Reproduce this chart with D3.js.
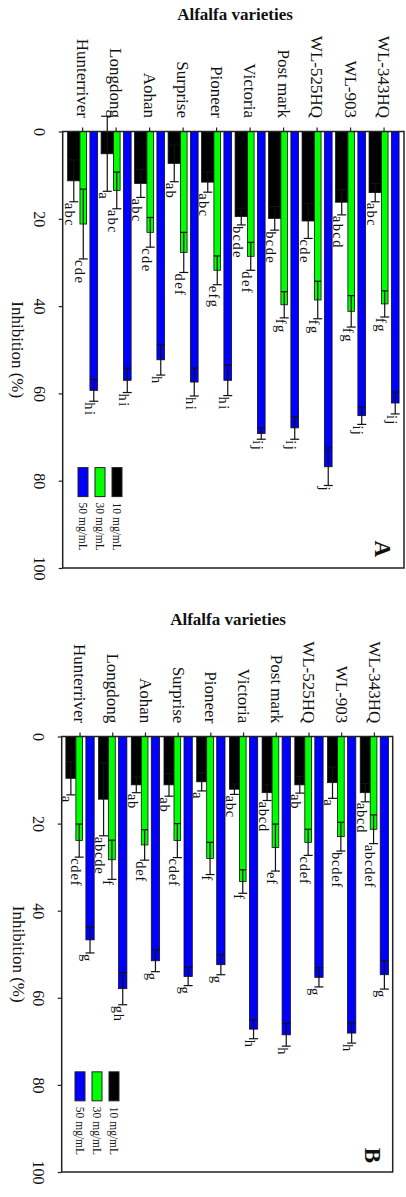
<!DOCTYPE html>
<html>
<head>
<meta charset="utf-8">
<script src="https://cdn.jsdelivr.net/npm/d3@7"></script>
<style>
	body{ margin:0; background:#fff; }
	svg text{ font-family:"Liberation Serif","DejaVu Serif",serif; fill:#111; }
</style>
</head>
<body>
<div id="chart"></div>
<script>
// ---- data ----
let varieties = ['Hunterriver','Longdong','Aohan','Surprise','Pioneer','Victoria','Post mark','WL-525HQ','WL-903','WL-343HQ'];
let value_ticks = [0, 20, 40, 60, 80, 100];
let doses = ['10 mg/mL', '30 mg/mL', '50 mg/mL'];

// panel A
let a_10      = [11.3, 5.1, 11.9, 7.3, 11.6, 19.5, 19.9, 20.5, 16.2, 14.0];
let a_10_err  = [4.8, 8.6, 3.2, 4.2, 2.3, 1.9, 2.7, 4.0, 2.9, 2.1];
let a_10_sig  = ['abc','a','abc','ab','abc','bcde','bcde','cde','abcd','abc'];
let a_30      = [21.2, 13.5, 23.1, 27.7, 31.8, 28.6, 39.7, 38.6, 41.2, 39.5];
let a_30_err  = [8.0, 4.2, 3.4, 4.6, 3.3, 3.2, 3.0, 4.3, 3.6, 3.0];
let a_30_sig  = ['cde','abc','cde','def','efg','def','fg','fg','fg','fg'];
let a_50      = [59.3, 57.0, 52.3, 57.4, 57.0, 69.2, 67.9, 76.8, 65.1, 62.2];
let a_50_err  = [2.5, 2.8, 3.5, 3.2, 3.5, 1.3, 2.6, 4.3, 2.0, 2.5];
let a_50_sig  = ['hi','hi','h','hi','hi','ij','ij','j','ij','ij'];

// panel B
let b_10      = [9.6, 14.4, 11.1, 11.1, 10.4, 12.1, 12.9, 11.1, 10.6, 12.9];
let b_10_err  = [3.8, 8.4, 1.8, 2.6, 2.1, 1.2, 1.8, 1.9, 3.6, 2.1];
let b_10_sig  = ['a','abcde','ab','ab','a','abc','abcd','ab','a','abcd'];
let b_30      = [23.9, 28.3, 24.9, 23.9, 28.0, 33.3, 25.5, 24.3, 23.0, 21.3];
let b_30_err  = [3.8, 4.5, 3.5, 3.9, 3.7, 2.7, 5.4, 3.0, 3.3, 3.3];
let b_30_sig  = ['cdef','f','def','cdef','f','f','ef','cdef','bcdef','abcdef'];
let b_50      = [46.7, 57.9, 51.5, 55.1, 52.4, 67.2, 68.5, 55.3, 68.1, 54.7];
let b_50_err  = [3.0, 3.7, 2.5, 2.1, 2.3, 2.2, 2.6, 2.2, 2.3, 3.3];
let b_50_sig  = ['g','gh','g','g','g','h','h','g','h','g'];

let colors = ['#000000', '#00ff00', '#0000ff'];

let svg = d3.select('#chart')
	.append('svg')
	.attr('width', 406)
	.attr('height', 1197);

// the figure is a column chart turned 90deg clockwise: categories run across,
// values run downwards and every label is rotated
function drawPanel(cfg, series){
	let x = d3.scaleBand()
		.domain(varieties)
		.range(cfg.xRange)
		.paddingInner(cfg.padIn)
		.paddingOuter(cfg.padOut);

	let y = d3.scaleLinear()
		.domain([0, 100])
		.range(cfg.yRange);

	let bw = x.bandwidth();
	let g  = svg.append('g');

	g.append('text')
		.attr('x', cfg.titleX)
		.attr('y', cfg.titleY)
		.attr('dy', '0.35em')
		.attr('text-anchor', 'middle')
		.attr('font-size', 17)
		.attr('font-weight', 'bold')
		.text('Alfalfa varieties');

	series.forEach(function(s, si){
		let sub  = cfg.sub[si],
			w    = (sub[1] - sub[0]) * bw,
			rows = varieties.map(function(v, i){
				return {v: v, val: s.values[i], err: s.errors[i], sig: s.sig[i]};
			});
		let left = function(d){ return x(d.v) + sub[0] * bw; };
		let cx   = function(d){ return left(d) + w / 2; };

		let sg = g.append('g').attr('class', 'series');

		sg.selectAll('rect')
			.data(rows)
			.enter()
			.append('rect')
			.attr('x', left)
			.attr('y', y(0))
			.attr('width', w)
			.attr('height', function(d){ return y(d.val) - y(0); })
			.attr('fill', s.color)
			.attr('stroke', '#111')
			.attr('stroke-width', 0.8);

		let eb = sg.selectAll('.err')
			.data(rows)
			.enter()
			.append('g')
			.attr('class', 'err')
			.attr('stroke', '#111')
			.attr('stroke-width', 1.2);

		eb.append('line')
			.attr('x1', cx).attr('x2', cx)
			.attr('y1', function(d){ return y(d.val - d.err); })
			.attr('y2', function(d){ return y(d.val + d.err); });
		eb.append('line')
			.attr('x1', left).attr('x2', function(d){ return left(d) + w; })
			.attr('y1', function(d){ return y(d.val - d.err); })
			.attr('y2', function(d){ return y(d.val - d.err); });
		eb.append('line')
			.attr('x1', function(d){ return cx(d) - cfg.cap / 2; })
			.attr('x2', function(d){ return cx(d) + cfg.cap / 2; })
			.attr('y1', function(d){ return y(d.val + d.err); })
			.attr('y2', function(d){ return y(d.val + d.err); });

		sg.selectAll('.sig')
			.data(rows)
			.enter()
			.append('text')
			.attr('class', 'sig')
			.attr('transform', function(d){
				return 'translate(' + cx(d) + ',' + (y(d.val + d.err) + 1) + ') rotate(90)';
			})
			.attr('dy', 8.5)
			.attr('font-size', 14.5)
			.attr('letter-spacing', cfg.sigSpacing)
			.text(function(d){ return d.sig; });
	});

	// frame
	g.append('rect')
		.attr('x', cfg.xRange[0])
		.attr('y', y(0))
		.attr('width', cfg.xRange[1] - cfg.xRange[0])
		.attr('height', y(100) - y(0))
		.attr('fill', 'none')
		.attr('stroke', '#222')
		.attr('stroke-width', 1.5);

	let xAxis = d3.axisTop(x)
		.tickSize(4)
		.tickSizeOuter(0);

	let yAxis = d3.axisLeft(y)
		.tickValues(value_ticks)
		.tickSize(4)
		.tickSizeOuter(0);

	let gx = g.append('g')
		.attr('class', 'axis axis--x')
		.attr('transform', 'translate(0,' + y(0) + ')')
		.call(xAxis);
	gx.select('.domain').remove();
	gx.selectAll('line').attr('stroke', '#222').attr('stroke-width', 1.2);
	gx.selectAll('text')
		.attr('x', 0).attr('y', 0)
		.attr('dy', '0.33em')
		.attr('transform', 'translate(0,' + cfg.catGap + ') rotate(90)')
		.attr('text-anchor', 'end')
		.attr('font-size', 17)
		.attr('font-family', null)
		.attr('fill', '#111');

	let gy = g.append('g')
		.attr('class', 'axis axis--y')
		.attr('transform', 'translate(' + cfg.xRange[0] + ',0)')
		.call(yAxis);
	gy.select('.domain').remove();
	gy.selectAll('line').attr('stroke', '#222').attr('stroke-width', 1.2);
	gy.selectAll('text')
		.attr('x', 0).attr('y', 0)
		.attr('dy', '0.33em')
		.attr('transform', 'translate(' + (cfg.tickLabelX - cfg.xRange[0]) + ',0) rotate(90)')
		.attr('text-anchor', 'middle')
		.attr('font-size', 16)
		.attr('font-family', null)
		.attr('fill', '#111');

	g.append('text')
		.attr('transform', 'translate(' + cfg.axisLabelX + ',' + ((cfg.yRange[0] + cfg.yRange[1]) / 2) + ') rotate(90)')
		.attr('dy', '0.33em')
		.attr('text-anchor', 'middle')
		.attr('font-size', 17)
		.text('Inhibition (%)');

	// legend: 50 on the left, 10 on the right
	let legend = g.append('g').attr('class', 'legend');
	let order  = [2, 1, 0];
	order.forEach(function(si, k){
		let lx = cfg.legX + k * 17;
		legend.append('rect')
			.attr('x', lx)
			.attr('y', y(cfg.legTop))
			.attr('width', 10)
			.attr('height', 29)
			.attr('fill', colors[si])
			.attr('stroke', '#222')
			.attr('stroke-width', 1);
		legend.append('text')
			.attr('transform', 'translate(' + (lx + 5) + ',' + (y(cfg.legTop) + 35) + ') rotate(90)')
			.attr('dy', '0.33em')
			.attr('font-size', 11.5)
			.text(doses[si]);
	});

	g.append('text')
		.attr('transform', 'translate(' + cfg.letterX + ',' + (cfg.yRange[1] - cfg.letterInset) + ') rotate(90)')
		.attr('text-anchor', 'end')
		.attr('font-size', 23)
		.attr('font-weight', 'bold')
		.text(cfg.letter);
}

drawPanel({
	xRange: [62.7, 404], yRange: [131.5, 568],
	padIn: 0.104, padOut: 0.147,
	sub: [[0, 0.41], [0.41, 0.633], [0.743, 1]],
	cap: 9, sigSpacing: 1.4,
	titleX: 235, titleY: 14,
	catGap: -13.5, tickLabelX: 39, axisLabelX: 18,
	legX: 78, legTop: 77,
	letter: 'A', letterX: 375, letterInset: 11
}, [
	{values: a_10, errors: a_10_err, sig: a_10_sig, color: colors[0]},
	{values: a_30, errors: a_30_err, sig: a_30_sig, color: colors[1]},
	{values: a_50, errors: a_50_err, sig: a_50_sig, color: colors[2]}
]);

drawPanel({
	xRange: [61.7, 392.7], yRange: [736.5, 1172],
	padIn: 0.135, padOut: 0.128,
	sub: [[0, 0.353], [0.353, 0.59], [0.707, 1]],
	cap: 9, sigSpacing: 0.8,
	titleX: 228, titleY: 619,
	catGap: -13.2, tickLabelX: 38, axisLabelX: 19,
	legX: 75, legTop: 77,
	letter: 'B', letterX: 365, letterInset: 9
}, [
	{values: b_10, errors: b_10_err, sig: b_10_sig, color: colors[0]},
	{values: b_30, errors: b_30_err, sig: b_30_sig, color: colors[1]},
	{values: b_50, errors: b_50_err, sig: b_50_sig, color: colors[2]}
]);
</script>
</body>
</html>
